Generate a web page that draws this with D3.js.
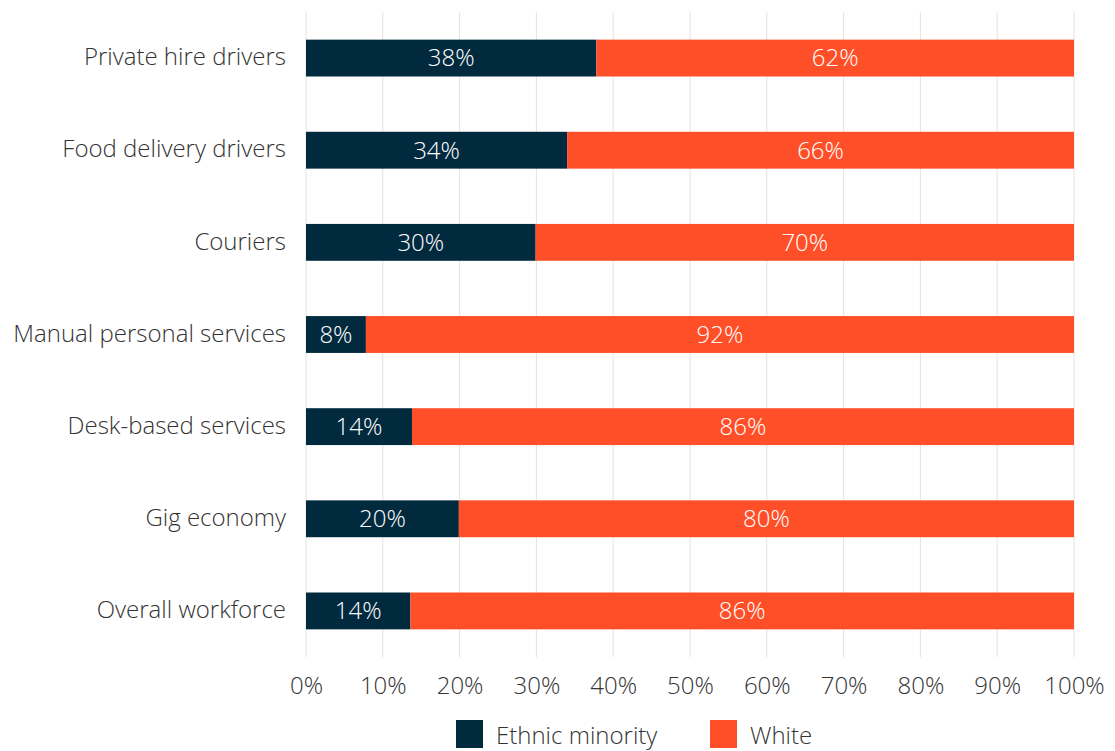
<!DOCTYPE html>
<html><head><meta charset="utf-8">
<script src="https://cdn.jsdelivr.net/npm/d3@7"></script>
<style>body{margin:0;background:#fff;} text{font-family:"Open Sans", sans-serif; font-weight:300;}</style>
</head><body><svg id="c" width="1115" height="751"></svg>
<script>
const categories = ["Private hire drivers","Food delivery drivers","Couriers","Manual personal services","Desk-based services","Gig economy","Overall workforce"];
const ethnicMinority = [37.8, 34.0, 29.9, 7.8, 13.8, 19.9, 13.6];
const white = [62.2, 66.0, 70.1, 92.2, 86.2, 80.1, 86.4];
const emLabels = ["38%","34%","30%","8%","14%","20%","14%"];
const whiteLabels = ["62%","66%","70%","92%","86%","80%","86%"];
const tickValues = [0,10,20,30,40,50,60,70,80,90,100];
const seriesNames = ["Ethnic minority","White"];
const colors = ["#022a3f","#ff4f28"];

const FONT = '"Open Sans", sans-serif';
const FS = 24;
const svg = d3.select("#c");
const x = d3.scaleLinear().domain([0,100]).range([306,1074]);
const y = d3.scaleBand().domain(categories).range([12,657]).paddingInner(0.6).paddingOuter(0.3);

// grid
svg.append("g").selectAll("line").data(tickValues).join("line")
  .attr("x1", d=>x(d)).attr("x2", d=>x(d)).attr("y1", 12).attr("y2", 657)
  .attr("stroke", "#e6e2de").attr("stroke-width", 1);

// x axis labels
const xAxis = d3.axisBottom(x).tickValues(tickValues).tickFormat(d=>d+"%").tickSize(0).tickPadding(0);
const gx = svg.append("g").attr("transform","translate(0,694)").call(xAxis);
gx.select(".domain").remove();
gx.selectAll("text").attr("font-size", FS).attr("fill","#333").attr("font-family",FONT).attr("font-weight",300).attr("dy","0").attr("y",0);

// y axis labels
const yAxis = d3.axisLeft(y).tickSize(0).tickPadding(0);
const gy = svg.append("g").attr("transform","translate(286,0)").call(yAxis);
gy.select(".domain").remove();
gy.selectAll("text").attr("font-size", FS).attr("fill","#333").attr("font-family",FONT).attr("font-weight",300).attr("dy","0.3em");

// bars
const rows = categories.map((c,i)=>({c, em:ethnicMinority[i], w:white[i], el:emLabels[i], wl:whiteLabels[i]}));
const g = svg.append("g");
rows.forEach(r=>{
  const segs = [
    {x0:0, x1:r.em, col:colors[0], lab:r.el},
    {x0:r.em, x1:r.em+r.w, col:colors[1], lab:r.wl}
  ];
  segs.forEach(s=>{
    g.append("rect").attr("x", x(s.x0)).attr("width", x(s.x1)-x(s.x0))
      .attr("y", y(r.c)).attr("height", y.bandwidth()).attr("fill", s.col);
    g.append("text").attr("x",(x(s.x0)+x(s.x1))/2).attr("y", y(r.c)+y.bandwidth()/2)
      .attr("text-anchor","middle").attr("dy","0.35em")
      .attr("font-size",FS).attr("fill","#fff").text(s.lab);
  });
});

// legend
const legX = [456, 710];
const lg = svg.append("g");
seriesNames.forEach((n,i)=>{
  lg.append("rect").attr("x", legX[i]).attr("y", 720).attr("width", 27).attr("height", 28).attr("fill", colors[i]);
  lg.append("text").attr("x", legX[i]+40).attr("y", 744).attr("font-size",FS).attr("fill","#333").text(n);
});
</script></body></html>
